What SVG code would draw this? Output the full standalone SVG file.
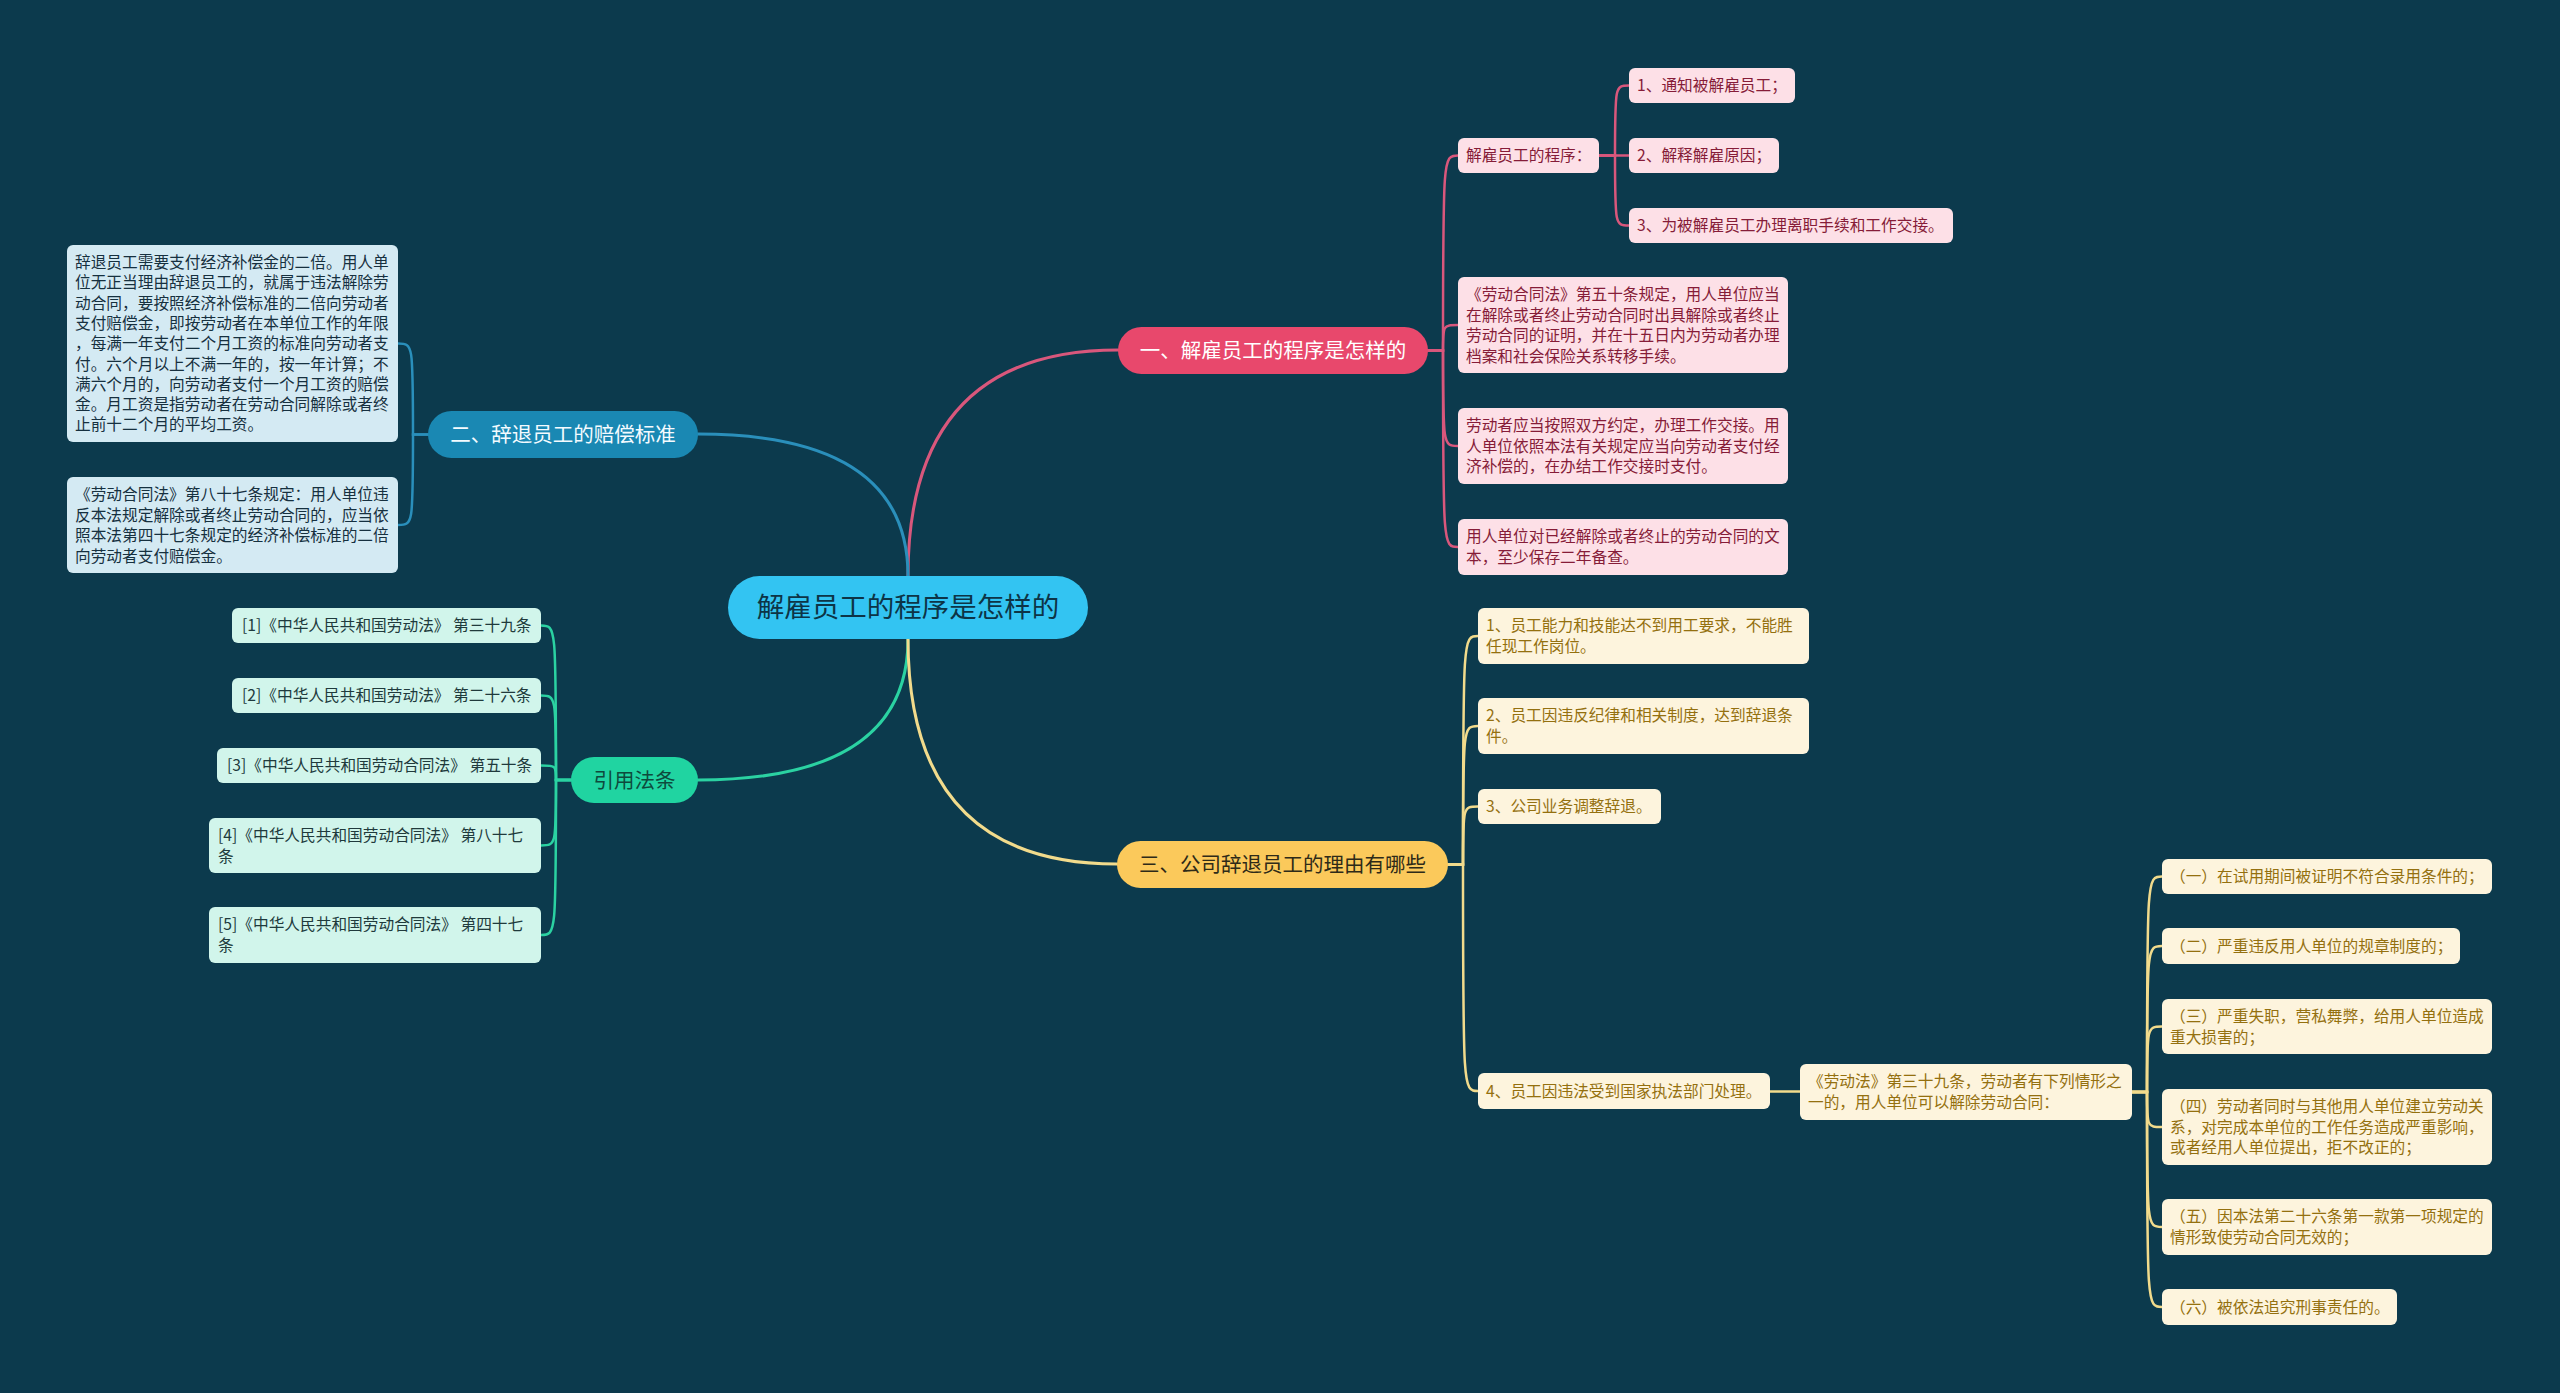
<svg xmlns="http://www.w3.org/2000/svg" width="2560" height="1393" viewBox="0 0 2560 1393">
<style>
text{font-family:"Noto Sans CJK SC","Microsoft YaHei",sans-serif}
.t{font-size:15.7px}
.lp rect{fill:#fde0e7}.lp text{fill:#861c38}
.lb rect{fill:#d4eaf3}.lb text{fill:#16303f}
.ly rect{fill:#fdf4dd}.ly text{fill:#94700f}
.lg rect{fill:#d1f5eb}.lg text{fill:#203a3c}
.br text{font-size:20.5px;text-anchor:middle}
.c path{fill:none;stroke-linecap:round}
.cp{stroke:#d9577c}.cb{stroke:#2a8fbb}.cy{stroke:#f2db8c}.cg{stroke:#2bd2a2}
.m{stroke-width:3}.s{stroke-width:2.5}
</style>
<rect width="2560" height="1393" fill="#0c3a4d"/>
<g class="c" id="connectors">
<path class="cp m" d="M908,576 Q908,350 1118,350"/>
<path class="cb m" d="M908,576 Q908,434 698,434"/>
<path class="cg m" d="M908,639 Q908,780 698,780"/>
<path class="cy m" d="M908,639 Q908,864 1117,864"/>
<path class="cp s" d="M1428,350.5 H1443 C1443,155.5 1443,155.5 1458,155.5"/>
<path class="cp s" d="M1428,350.5 H1443 C1443,325 1443,325 1458,325"/>
<path class="cp s" d="M1428,350.5 H1443 C1443,446 1443,446 1458,446"/>
<path class="cp s" d="M1428,350.5 H1443 C1443,547 1443,547 1458,547"/>
<path class="cp s" d="M1599,155.5 H1615 C1615,85.5 1615,85.5 1629,85.5"/>
<path class="cp s" d="M1599,155.5 H1629"/>
<path class="cp s" d="M1599,155.5 H1615 C1615,225.5 1615,225.5 1629,225.5"/>
<path class="cb s" d="M428,434.5 H413 C413,343.5 413,343.5 398,343.5"/>
<path class="cb s" d="M428,434.5 H413 C413,525 413,525 398,525"/>
<path class="cg s" d="M571,780 H556 C556,625.5 556,625.5 541,625.5"/>
<path class="cg s" d="M571,780 H556 C556,695.5 556,695.5 541,695.5"/>
<path class="cg s" d="M571,780 H556 C556,765.5 556,765.5 541,765.5"/>
<path class="cg s" d="M571,780 H556 C556,845.5 556,845.5 541,845.5"/>
<path class="cg s" d="M571,780 H556 C556,935 556,935 541,935"/>
<path class="cy s" d="M1448,864.5 H1463 C1463,636 1463,636 1478,636"/>
<path class="cy s" d="M1448,864.5 H1463 C1463,726 1463,726 1478,726"/>
<path class="cy s" d="M1448,864.5 H1463 C1463,806.5 1463,806.5 1478,806.5"/>
<path class="cy s" d="M1448,864.5 H1463 C1463,1091 1463,1091 1478,1091"/>
<path class="cy s" d="M1770,1091.5 H1800"/>
<path class="cy s" d="M2132,1092 H2147 C2147,876.5 2147,876.5 2162,876.5"/>
<path class="cy s" d="M2132,1092 H2147 C2147,946 2147,946 2162,946"/>
<path class="cy s" d="M2132,1092 H2147 C2147,1026.5 2147,1026.5 2162,1026.5"/>
<path class="cy s" d="M2132,1092 H2147 C2147,1127 2147,1127 2162,1127"/>
<path class="cy s" d="M2132,1092 H2147 C2147,1227 2147,1227 2162,1227"/>
<path class="cy s" d="M2132,1092 H2147 C2147,1307 2147,1307 2162,1307"/>
</g>
<g id="root"><rect x="728" y="576" width="360" height="63" rx="31.5" fill="#33c4f2"/><text x="908" y="617" font-size="27.5" text-anchor="middle" fill="#0d3446">解雇员工的程序是怎样的</text></g>
<g id="b1" class="br"><rect x="1118" y="327" width="310" height="47" rx="23.5" fill="#e8486c"/><text x="1273" y="358" fill="#fff">一、解雇员工的程序是怎样的</text></g>
<g id="b2" class="br"><rect x="428" y="411" width="270" height="47" rx="23.5" fill="#1a88b3"/><text x="563" y="442" fill="#f4fbff">二、辞退员工的赔偿标准</text></g>
<g id="b3" class="br"><rect x="1117" y="841" width="331" height="47" rx="23.5" fill="#fbc95b"/><text x="1282.5" y="872" fill="#2e2a18">三、公司辞退员工的理由有哪些</text></g>
<g id="b4" class="br"><rect x="571" y="757" width="127" height="46" rx="23" fill="#20d4a1"/><text x="634.5" y="787.5" fill="#0e4a3d">引用法条</text></g>
<g id="p0" class="lp"><rect x="1458" y="138" width="141" height="35" rx="6"/><text class="t" x="1466" y="161">解雇员工的程序：</text></g>
<g id="p1" class="lp"><rect x="1629" y="68" width="166" height="35" rx="6"/><text class="t" x="1637" y="91">1、通知被解雇员工；</text></g>
<g id="p2" class="lp"><rect x="1629" y="138" width="150" height="35" rx="6"/><text class="t" x="1637" y="161">2、解释解雇原因；</text></g>
<g id="p3" class="lp"><rect x="1629" y="208" width="324" height="35" rx="6"/><text class="t" x="1637" y="231">3、为被解雇员工办理离职手续和工作交接。</text></g>
<g id="p4" class="lp"><rect x="1458" y="277" width="330" height="96" rx="6"/><text class="t" y="300.3"><tspan x="1466">《劳动合同法》第五十条规定，用人单位应当</tspan><tspan x="1466" dy="20.5">在解除或者终止劳动合同时出具解除或者终止</tspan><tspan x="1466" dy="20.5">劳动合同的证明，并在十五日内为劳动者办理</tspan><tspan x="1466" dy="20.5">档案和社会保险关系转移手续。</tspan></text></g>
<g id="p5" class="lp"><rect x="1458" y="408" width="330" height="76" rx="6"/><text class="t" y="431.3"><tspan x="1466">劳动者应当按照双方约定，办理工作交接。用</tspan><tspan x="1466" dy="20.5">人单位依照本法有关规定应当向劳动者支付经</tspan><tspan x="1466" dy="20.5">济补偿的，在办结工作交接时支付。</tspan></text></g>
<g id="p6" class="lp"><rect x="1458" y="519" width="330" height="56" rx="6"/><text class="t" y="542.3"><tspan x="1466">用人单位对已经解除或者终止的劳动合同的文</tspan><tspan x="1466" dy="20.5">本，至少保存二年备查。</tspan></text></g>
<g id="q1" class="lb"><rect x="67" y="245" width="331" height="197" rx="6"/><text class="t" y="268"><tspan x="75">辞退员工需要支付经济补偿金的二倍。用人单</tspan><tspan x="75" dy="20.3">位无正当理由辞退员工的，就属于违法解除劳</tspan><tspan x="75" dy="20.3">动合同，要按照经济补偿标准的二倍向劳动者</tspan><tspan x="75" dy="20.3">支付赔偿金，即按劳动者在本单位工作的年限</tspan><tspan x="75" dy="20.3">，每满一年支付二个月工资的标准向劳动者支</tspan><tspan x="75" dy="20.3">付。六个月以上不满一年的，按一年计算；不</tspan><tspan x="75" dy="20.3">满六个月的，向劳动者支付一个月工资的赔偿</tspan><tspan x="75" dy="20.3">金。月工资是指劳动者在劳动合同解除或者终</tspan><tspan x="75" dy="20.3">止前十二个月的平均工资。</tspan></text></g>
<g id="q2" class="lb"><rect x="67" y="477" width="331" height="96" rx="6"/><text class="t" y="500.3"><tspan x="75">《劳动合同法》第八十七条规定：用人单位违</tspan><tspan x="75" dy="20.5">反本法规定解除或者终止劳动合同的，应当依</tspan><tspan x="75" dy="20.5">照本法第四十七条规定的经济补偿标准的二倍</tspan><tspan x="75" dy="20.5">向劳动者支付赔偿金。</tspan></text></g>
<g id="r1" class="lg"><rect x="232" y="608" width="309" height="35" rx="6"/><text class="t" x="242" y="631">[1]《中华人民共和国劳动法》 第三十九条</text></g>
<g id="r2" class="lg"><rect x="232" y="678" width="309" height="35" rx="6"/><text class="t" x="242" y="701">[2]《中华人民共和国劳动法》 第二十六条</text></g>
<g id="r3" class="lg"><rect x="217" y="748" width="324" height="35" rx="6"/><text class="t" x="227" y="771">[3]《中华人民共和国劳动合同法》 第五十条</text></g>
<g id="r4" class="lg"><rect x="209" y="818" width="332" height="55" rx="6"/><text class="t" y="841"><tspan x="218">[4]《中华人民共和国劳动合同法》 第八十七</tspan><tspan x="218" dy="20.5">条</tspan></text></g>
<g id="r5" class="lg"><rect x="209" y="907" width="332" height="56" rx="6"/><text class="t" y="930.3"><tspan x="218">[5]《中华人民共和国劳动合同法》 第四十七</tspan><tspan x="218" dy="20.5">条</tspan></text></g>
<g id="y1" class="ly"><rect x="1478" y="608" width="331" height="56" rx="6"/><text class="t" y="631.3"><tspan x="1486">1、员工能力和技能达不到用工要求，不能胜</tspan><tspan x="1486" dy="20.5">任现工作岗位。</tspan></text></g>
<g id="y2" class="ly"><rect x="1478" y="698" width="331" height="56" rx="6"/><text class="t" y="721.3"><tspan x="1486">2、员工因违反纪律和相关制度，达到辞退条</tspan><tspan x="1486" dy="20.5">件。</tspan></text></g>
<g id="y3" class="ly"><rect x="1478" y="789" width="183" height="35" rx="6"/><text class="t" x="1486" y="812">3、公司业务调整辞退。</text></g>
<g id="y4" class="ly"><rect x="1478" y="1073" width="292" height="36" rx="6"/><text class="t" x="1486" y="1096.5">4、员工因违法受到国家执法部门处理。</text></g>
<g id="y5" class="ly"><rect x="1800" y="1064" width="332" height="56" rx="6"/><text class="t" y="1087.3"><tspan x="1808">《劳动法》第三十九条，劳动者有下列情形之</tspan><tspan x="1808" dy="20.5">一的，用人单位可以解除劳动合同：</tspan></text></g>
<g id="y6" class="ly"><rect x="2162" y="859" width="330" height="35" rx="6"/><text class="t" x="2170" y="882">（一）在试用期间被证明不符合录用条件的；</text></g>
<g id="y7" class="ly"><rect x="2162" y="928" width="298" height="36" rx="6"/><text class="t" x="2170" y="951.5">（二）严重违反用人单位的规章制度的；</text></g>
<g id="y8" class="ly"><rect x="2162" y="999" width="330" height="55" rx="6"/><text class="t" y="1022"><tspan x="2170">（三）严重失职，营私舞弊，给用人单位造成</tspan><tspan x="2170" dy="20.5">重大损害的；</tspan></text></g>
<g id="y9" class="ly"><rect x="2162" y="1089" width="330" height="76" rx="6"/><text class="t" y="1112.3"><tspan x="2170">（四）劳动者同时与其他用人单位建立劳动关</tspan><tspan x="2170" dy="20.5">系，对完成本单位的工作任务造成严重影响，</tspan><tspan x="2170" dy="20.5">或者经用人单位提出，拒不改正的；</tspan></text></g>
<g id="y10" class="ly"><rect x="2162" y="1199" width="330" height="56" rx="6"/><text class="t" y="1222.3"><tspan x="2170">（五）因本法第二十六条第一款第一项规定的</tspan><tspan x="2170" dy="20.5">情形致使劳动合同无效的；</tspan></text></g>
<g id="y11" class="ly"><rect x="2162" y="1289" width="235" height="36" rx="6"/><text class="t" x="2170" y="1312.5">（六）被依法追究刑事责任的。</text></g>
</svg>
